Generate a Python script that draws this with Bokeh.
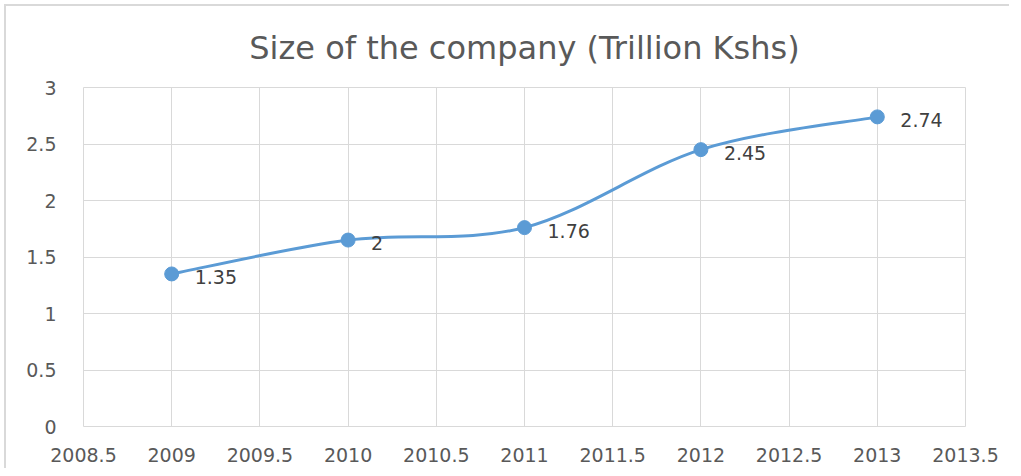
from bokeh.plotting import figure
from bokeh.models import FixedTicker, Range1d, ColumnDataSource
from bokeh.core.properties import value
from bokeh.embed import file_html
from bokeh.resources import INLINE

# ---- data ----
years = [2009, 2010, 2011, 2012, 2013]
sizes = [1.35, 1.65, 1.76, 2.45, 2.74]
point_labels = ["1.35", "2", "1.76", "2.45", "2.74"]
x_ticks = [2008.5, 2009, 2009.5, 2010, 2010.5, 2011, 2011.5, 2012, 2012.5, 2013, 2013.5]
x_tick_labels = ["2008.5", "2009", "2009.5", "2010", "2010.5", "2011", "2011.5",
                 "2012", "2012.5", "2013", "2013.5"]
y_ticks = [0, 0.5, 1, 1.5, 2, 2.5, 3]
y_tick_labels = ["0", "0.5", "1", "1.5", "2", "2.5", "3"]
title_text = "Size of the company (Trillion Kshs)"

LINE = "#5B9BD5"
GRID = "#d9d9d9"
TXT = "#595959"
FONT = "DejaVu Sans"

p = figure(width=1005, height=464, output_backend="svg", toolbar_location=None,
           x_range=Range1d(2008.5, 2013.5), y_range=Range1d(0, 3),
           min_border_left=77, min_border_right=46, min_border_top=81, min_border_bottom=44,
           title=title_text)
p.styles = {"margin-left": "4px", "margin-top": "4px",
            "border-left": "2px solid #d9d9d9", "border-top": "2px solid #d9d9d9"}

p.title.align = "center"
p.title.text_font = FONT
p.title.text_font_style = "normal"
p.title.text_font_size = "32px"
p.title.text_color = TXT
p.title.offset = 0
p.title.standoff = 41

p.outline_line_color = GRID
p.background_fill_color = "white"
p.border_fill_color = "white"

for ax in (p.xaxis[0], p.yaxis[0]):
    ax.axis_line_color = None
    ax.major_tick_line_color = None
    ax.minor_tick_line_color = None
    ax.major_label_text_font = FONT
    ax.major_label_text_font_size = "19px"
    ax.major_label_text_color = TXT

p.xaxis[0].ticker = FixedTicker(ticks=x_ticks)
p.xaxis[0].major_label_overrides = {t: s for t, s in zip(x_ticks, x_tick_labels)}
p.xaxis[0].major_label_standoff = 15
p.yaxis[0].ticker = FixedTicker(ticks=y_ticks)
p.yaxis[0].major_label_overrides = {t: s for t, s in zip(y_ticks, y_tick_labels)}
p.yaxis[0].major_label_standoff = 21

p.xgrid[0].grid_line_color = GRID
p.ygrid[0].grid_line_color = GRID
p.xgrid[0].ticker = FixedTicker(ticks=x_ticks)
p.ygrid[0].ticker = FixedTicker(ticks=y_ticks)

# smooth line (Excel-style Catmull-Rom bezier segments built from the data)
n = len(years)
x0, y0, x1, y1, cx0, cy0, cx1, cy1 = [], [], [], [], [], [], [], []
for i in range(n - 1):
    pa = (years[max(i - 1, 0)], sizes[max(i - 1, 0)])
    pb = (years[i], sizes[i])
    pc = (years[i + 1], sizes[i + 1])
    pd = (years[min(i + 2, n - 1)], sizes[min(i + 2, n - 1)])
    x0.append(pb[0]); y0.append(pb[1]); x1.append(pc[0]); y1.append(pc[1])
    cx0.append(pb[0] + (pc[0] - pa[0]) / 6.0); cy0.append(pb[1] + (pc[1] - pa[1]) / 6.0)
    cx1.append(pc[0] - (pd[0] - pb[0]) / 6.0); cy1.append(pc[1] - (pd[1] - pb[1]) / 6.0)
p.bezier(x0=x0, y0=y0, x1=x1, y1=y1, cx0=cx0, cy0=cy0, cx1=cx1, cy1=cy1,
         line_color=LINE, line_width=3)

src = ColumnDataSource(dict(x=years, y=sizes, lab=point_labels))
p.scatter("x", "y", source=src, size=14, fill_color=LINE, line_color=LINE)
p.text("x", "y", text="lab", source=src, x_offset=23, y_offset=3,
       text_font=value(FONT), text_font_size="19px", text_color="#404040",
       text_baseline="middle", text_align="left")

open("out.html", "w").write(file_html(p, INLINE))
